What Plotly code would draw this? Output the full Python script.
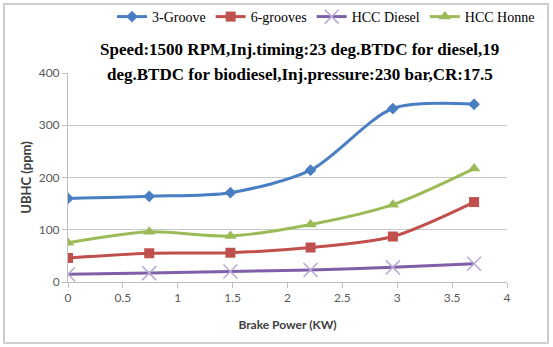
import plotly.graph_objects as go

brake_power = [0, 0.74, 1.48, 2.21, 2.96, 3.7]
groove3 = [160, 164, 171, 214, 332, 340]
grooves6 = [46, 55, 56, 66, 87, 153]
hcc_diesel = [15, 17, 20, 23, 28, 35]
hcc_honne = [75, 96, 88, 110, 148, 217]

series = [
    ("3-Groove", groove3, "#4A7EC2", "diamond", 9),
    ("6-grooves", grooves6, "#C0504D", "square", 10),
    ("HCC Diesel", hcc_diesel, "#7F5FA8", "x-thin-open", 14),
    ("HCC Honne", hcc_honne, "#9BBB59", "triangle-up", 11),
]

fig = go.Figure()
for name, vals, col, sym, sz in series:
    marker = dict(symbol=sym, size=sz, color=col)
    if sym == "x-thin-open":
        marker = dict(symbol=sym, size=sz, color="#B9A9D6", line=dict(width=1.5, color="#B9A9D6"))
    fig.add_trace(go.Scatter(
        x=brake_power, y=vals, name=name, mode="lines+markers",
        line=dict(color=col, width=3, shape="spline", smoothing=0.8),
        marker=marker,
    ))

L, R, T, B = 68, 46, 73, 65
W, H = 553, 347
pw, ph = W - L - R, H - T - B

def px(x):
    return (x - L) / pw

def py(y):
    return (H - B - y) / ph

fig.update_layout(
    width=W, height=H,
    margin=dict(l=L, r=R, t=T, b=B, autoexpand=False),
    paper_bgcolor="white", plot_bgcolor="white",
    showlegend=True,
    legend=dict(orientation="h", x=px(112), xanchor="left", y=py(17), yanchor="middle",
                font=dict(family="Liberation Serif", size=14, color="#000000"),
                bgcolor="rgba(0,0,0,0)", itemwidth=30, tracegroupgap=0),
    xaxis=dict(range=[0, 4], dtick=0.5, showgrid=False, showline=True, linecolor="#BFBFBF",
               linewidth=1, ticks="outside", ticklen=5, tickcolor="#BFBFBF", automargin=False,
               tickfont=dict(family="Lato", size=12, color="#595959"), zeroline=False,
               title=dict(text="<b>Brake Power (KW)</b>", font=dict(family="Lato", size=12, color="#404040"), standoff=16)),
    yaxis=dict(range=[0, 400], dtick=100, showgrid=True, gridcolor="#C8C8C8", gridwidth=1,
               showline=True, linecolor="#BFBFBF", linewidth=1, ticks="outside", ticklen=5,
               tickcolor="#BFBFBF", zeroline=False, automargin=False,
               tickfont=dict(family="Lato", size=12, color="#595959"),
               title=dict(text="<b>UBHC (ppm)</b>", font=dict(family="Lato", size=13, color="#404040"), standoff=4)),
    annotations=[
        dict(text="<b>Speed:1500 RPM,Inj.timing:23 deg.BTDC for diesel,19</b>",
             xref="paper", yref="paper", x=px(299), y=py(49), xanchor="center", yanchor="middle",
             showarrow=False, font=dict(family="Liberation Serif", size=17, color="#000000")),
        dict(text="<b>deg.BTDC for biodiesel,Inj.pressure:230 bar,CR:17.5</b>",
             xref="paper", yref="paper", x=px(300), y=py(74), xanchor="center", yanchor="middle",
             showarrow=False, font=dict(family="Liberation Serif", size=17, color="#000000")),
    ],
    shapes=[dict(type="rect", xref="paper", yref="paper", x0=px(4), x1=px(548), y0=py(343), y1=py(4),
                 line=dict(color="#BFBFBF", width=1.5), layer="below")],
)

fig.write_html("out.html", config={"displayModeBar": False},
               post_script="document.body.style.margin='0';document.body.style.overflow='hidden';")
